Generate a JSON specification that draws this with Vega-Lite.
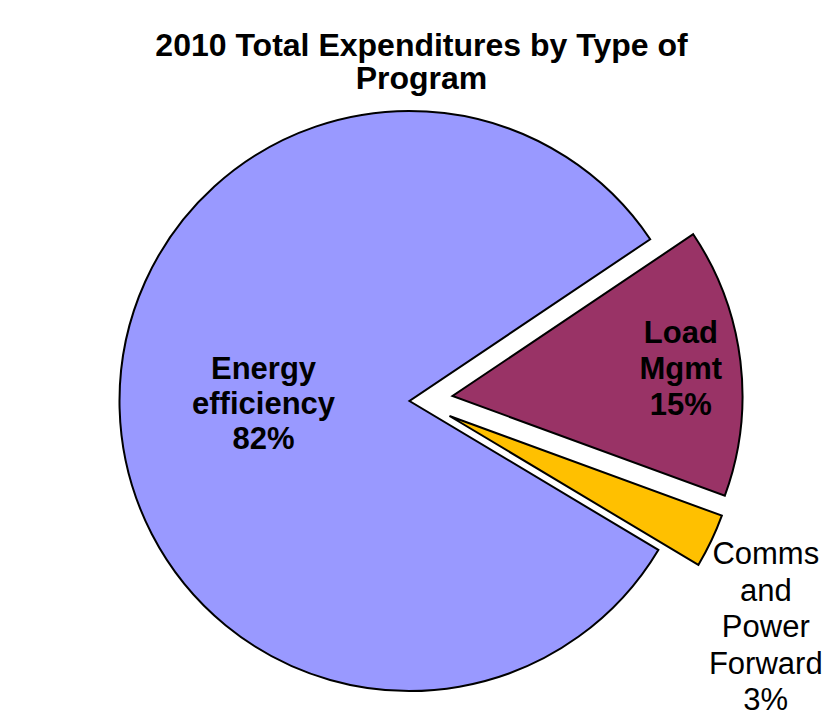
{
  "$schema": "https://vega.github.io/schema/vega-lite/v6.json",
  "width": 580,
  "height": 580,
  "autosize": "none",
  "padding": {"left": 119.5, "top": 111, "right": 131.5, "bottom": 36},
  "background": "white",
  "config": {"view": {"stroke": null}},
  "title": {
    "text": ["2010 Total Expenditures by Type of", "Program"],
    "font": "Liberation Sans",
    "fontSize": 32,
    "fontWeight": "bold",
    "color": "black",
    "lineHeight": 33.5,
    "anchor": "middle",
    "dx": 12,
    "offset": 10
  },
  "data": {
    "values": [
      {"Program": "Energy efficiency", "share": 82, "label": "Energy\nefficiency\n82%"},
      {"Program": "Load Mgmt", "share": 15, "label": "Load\nMgmt\n15%"},
      {"Program": "Comms and Power Forward", "share": 3, "label": "Comms\nand\nPower\nForward\n3%"}
    ]
  },
  "encoding": {
    "theta": {
      "field": "share",
      "type": "quantitative",
      "stack": true,
      "scale": {"range": [1.9216, 8.2048]}
    },
    "order": {"field": "Program", "sort": "ascending"}
  },
  "layer": [
    {
      "mark": {"type": "arc", "stroke": "black", "strokeWidth": 2},
      "encoding": {
        "color": {"field": "Program", "type": "nominal", "legend": null,
          "scale": {"domain": ["Energy efficiency", "Load Mgmt", "Comms and Power Forward"], "range": ["#9999FF", "#993366", "#FFC000"]}},
        "opacity": {"condition": {"test": "datum.Program === 'Energy efficiency'", "value": 1}, "value": 0}
      }
    },
    {
      "mark": {"type": "arc", "stroke": "black", "strokeWidth": 2, "xOffset": 43, "yOffset": -5},
      "encoding": {
        "color": {"field": "Program", "type": "nominal", "legend": null},
        "opacity": {"condition": {"test": "datum.Program === 'Load Mgmt'", "value": 1}, "value": 0}
      }
    },
    {
      "mark": {"type": "arc", "stroke": "black", "strokeWidth": 2, "xOffset": 40, "yOffset": 15},
      "encoding": {
        "color": {"field": "Program", "type": "nominal", "legend": null},
        "opacity": {"condition": {"test": "datum.Program === 'Comms and Power Forward'", "value": 1}, "value": 0}
      }
    },
    {
      "mark": {"type": "text", "radius": 146, "yOffset": -35, "font": "Liberation Sans", "fontSize": 31, "fontWeight": "bold", "color": "black", "lineBreak": "\n", "lineHeight": 35, "align": "center", "baseline": "middle"},
      "encoding": {
        "detail": {"field": "Program"},
        "text": {"field": "label"},
        "opacity": {"condition": {"test": "datum.Program === 'Energy efficiency'", "value": 1}, "value": 0}
      }
    },
    {
      "mark": {"type": "text", "radius": 230, "xOffset": 43, "yOffset": -39, "font": "Liberation Sans", "fontSize": 31, "fontWeight": "bold", "color": "black", "lineBreak": "\n", "lineHeight": 36, "align": "center", "baseline": "middle"},
      "encoding": {
        "detail": {"field": "Program"},
        "text": {"field": "label"},
        "opacity": {"condition": {"test": "datum.Program === 'Load Mgmt'", "value": 1}, "value": 0}
      }
    },
    {
      "mark": {"type": "text", "radius": 377, "xOffset": 16, "yOffset": -8, "font": "Liberation Sans", "fontSize": 31, "fontWeight": "normal", "color": "black", "lineBreak": "\n", "lineHeight": 36.5, "align": "center", "baseline": "middle"},
      "encoding": {
        "detail": {"field": "Program"},
        "text": {"field": "label"},
        "opacity": {"condition": {"test": "datum.Program === 'Comms and Power Forward'", "value": 1}, "value": 0}
      }
    }
  ]
}
